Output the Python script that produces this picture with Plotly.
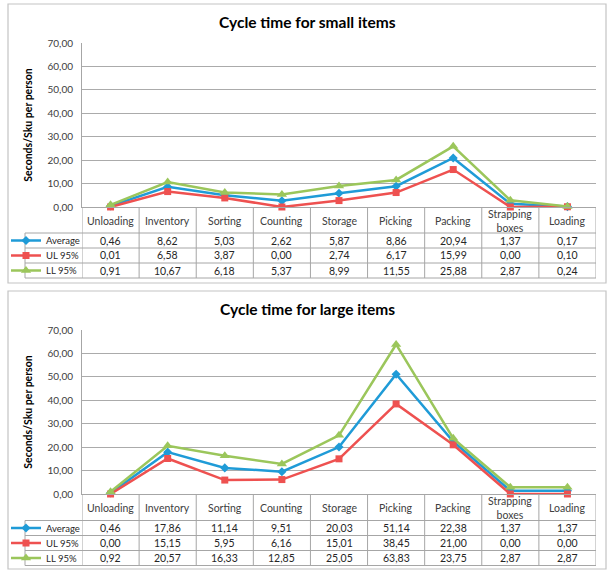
import plotly.graph_objects as go

# ---------------- data ----------------
categories = ["Unloading", "Inventory", "Sorting", "Counting", "Storage",
              "Picking", "Packing", "Strapping boxes", "Loading"]
category_labels = ["Unloading", "Inventory", "Sorting", "Counting", "Storage",
                   "Picking", "Packing", "Strapping<br>boxes", "Loading"]
series_names = ["Average", "UL 95%", "LL 95%"]

small_average = [0.46, 8.62, 5.03, 2.62, 5.87, 8.86, 20.94, 1.37, 0.17]
small_ul95 = [0.01, 6.58, 3.87, 0.00, 2.74, 6.17, 15.99, 0.00, 0.10]
small_ll95 = [0.91, 10.67, 6.18, 5.37, 8.99, 11.55, 25.88, 2.87, 0.24]

large_average = [0.46, 17.86, 11.14, 9.51, 20.03, 51.14, 22.38, 1.37, 1.37]
large_ul95 = [0.00, 15.15, 5.95, 6.16, 15.01, 38.45, 21.00, 0.00, 0.00]
large_ll95 = [0.92, 20.57, 16.33, 12.85, 25.05, 63.83, 23.75, 2.87, 2.87]

titles = ["Cycle time for small items", "Cycle time for large items"]
y_title = "Seconds/Sku per person"
y_ticks = [0, 10, 20, 30, 40, 50, 60, 70]

# ---------------- styling ----------------
W, H = 607, 570
FONT = "Lato, 'Noto Sans', sans-serif"
colors = ["#1F9BD7", "#EE5150", "#9BC65B"]
symbols = ["diamond", "square", "triangle-up"]
msizes = [7, 7, 9]
GRID = "#ababab"
TABLE = "#a6a6a6"
FRAME = "#c4c4c4"


def px(x):
    return x / W


def py(y):
    return 1 - y / H


def fmt(v):
    return f"{v:.2f}".replace(".", ",")


# chart layouts in pixel coordinates
charts = [
    dict(data=[small_average, small_ul95, small_ll95], title=titles[0],
         frame=(8, 4, 606, 283), title_y=22, top=43, zero=207,
         rows=[233, 248, 263, 278]),
    dict(data=[large_average, large_ul95, large_ll95], title=titles[1],
         frame=(8, 291, 606, 569), title_y=309, top=330, zero=494,
         rows=[520.5, 535.5, 550.5, 565.5]),
]
PLOT_L, PLOT_R, TABLE_L = 82, 596, 25

fig = go.Figure()
shapes = []
annotations = []
layout_extra = {}

legend_idx = 1
for ci, ch in enumerate(charts):
    xa = "x" if ci == 0 else "x2"
    ya = "y" if ci == 0 else "y2"
    for si, (name, vals) in enumerate(zip(series_names, ch["data"])):
        lname = "legend" if legend_idx == 1 else f"legend{legend_idx}"
        fig.add_trace(go.Scatter(
            x=categories, y=vals, name=name, mode="lines+markers",
            xaxis=xa, yaxis=ya, cliponaxis=False,
            line=dict(color=colors[si], width=2.5),
            marker=dict(color=colors[si], symbol=symbols[si], size=msizes[si]),
            showlegend=True, legend=lname,
        ))
        # legend positioned in the table's first column
        row_c = (ch["rows"][si] + ch["rows"][si + 1]) / 2
        layout_extra[lname] = dict(
            x=px(6), y=py(row_c), xanchor="left", yanchor="middle",
            bgcolor="rgba(0,0,0,0)", borderwidth=0,
            font=dict(family=FONT, size=9.5, color="#262626"),
            itemclick=False, itemdoubleclick=False,
        )
        legend_idx += 1
        # values row
        for cat, v in zip(categories, vals):
            annotations.append(dict(
                x=cat, xref=xa, y=py(row_c), yref="paper",
                text=fmt(v), showarrow=False, xanchor="center", yanchor="middle",
                font=dict(family=FONT, size=10.5, color="#262626"),
            ))

    # category header labels
    head_c = (ch["zero"] + ch["rows"][0]) / 2
    for cat, lab in zip(categories, category_labels):
        annotations.append(dict(
            x=cat, xref=xa, y=py(head_c + 0.5), yref="paper",
            text=lab, showarrow=False, xanchor="center", yanchor="middle",
            font=dict(family=FONT, size=10.5, color="#404040"),
        ))

    # title
    annotations.append(dict(
        x=px((ch["frame"][0] + ch["frame"][2]) / 2), xref="paper",
        y=py(ch["title_y"]), yref="paper", text=f"<b>{ch['title']}</b>",
        showarrow=False, xanchor="center", yanchor="middle",
        font=dict(family=FONT, size=15.5, color="#000000"),
    ))

    # outer frame
    fx0, fy0, fx1, fy1 = ch["frame"]
    shapes.append(dict(type="rect", xref="paper", yref="paper",
                       x0=px(fx0), x1=px(fx1), y0=py(fy0), y1=py(fy1),
                       line=dict(color=FRAME, width=1.2), layer="below"))

    # table grid: horizontal lines
    for r in ch["rows"]:
        shapes.append(dict(type="line", xref="paper", yref="paper",
                           x0=px(TABLE_L), x1=px(PLOT_R), y0=py(r), y1=py(r),
                           line=dict(color=TABLE, width=1)))
    # left edge of legend column
    shapes.append(dict(type="line", xref="paper", yref="paper",
                       x0=px(TABLE_L), x1=px(TABLE_L),
                       y0=py(ch["rows"][0]), y1=py(ch["rows"][-1]),
                       line=dict(color=TABLE, width=1)))
    # vertical column separators (category boundaries)
    for k in range(len(categories) + 1):
        shapes.append(dict(type="line", xref=xa, yref="paper",
                           x0=k - 0.5, x1=k - 0.5,
                           y0=py(ch["zero"]), y1=py(ch["rows"][-1]),
                           line=dict(color=TABLE, width=1)))

    axis_common_x = dict(
        domain=[px(PLOT_L), px(PLOT_R)], range=[-0.5, len(categories) - 0.5],
        showticklabels=False, showgrid=False, zeroline=False, ticks="",
        showline=True, linecolor=TABLE, linewidth=1, automargin=False,
    )
    axis_common_y = dict(
        domain=[py(ch["zero"]), py(ch["top"])], range=[0, 70],
        tickvals=y_ticks, tickformat=".2f", showgrid=True, gridcolor=GRID,
        gridwidth=1, zeroline=False, showline=True, linecolor=TABLE,
        linewidth=1, ticks="", ticklabelstandoff=6, automargin=False,
        tickfont=dict(family=FONT, size=10, color="#404040"),
        title=dict(text=f"<b>{y_title}</b>", standoff=12,
                   font=dict(family=FONT, size=10.5, color="#000000")),
    )
    if ci == 0:
        layout_extra["xaxis"] = dict(axis_common_x, anchor="y")
        layout_extra["yaxis"] = dict(axis_common_y, anchor="x")
    else:
        layout_extra["xaxis2"] = dict(axis_common_x, anchor="y2")
        layout_extra["yaxis2"] = dict(axis_common_y, anchor="x2")

fig.update_layout(
    width=W, height=H, margin=dict(l=0, r=0, t=0, b=0, autoexpand=False),
    paper_bgcolor="white", plot_bgcolor="white",
    separators=",.",
    font=dict(family=FONT, size=10, color="#404040"),
    shapes=shapes, annotations=annotations,
    **layout_extra,
)

fig.write_html(
    "out.html",
    config={"displayModeBar": False},
    post_script="document.body.style.margin='0';document.body.style.overflow='hidden';",
)
